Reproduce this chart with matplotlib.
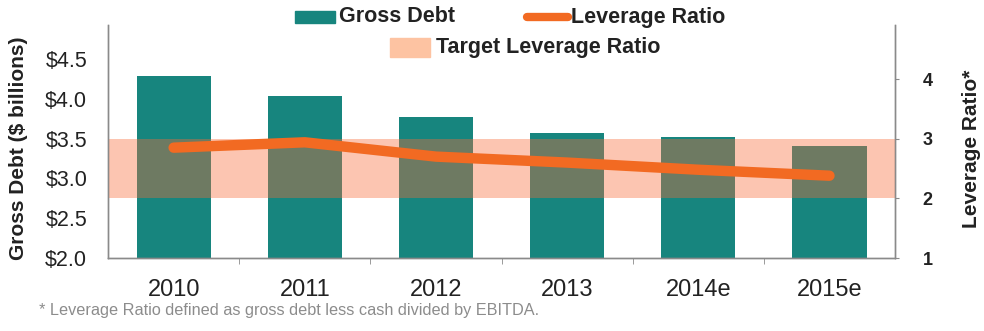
import matplotlib
matplotlib.use("Agg")
import matplotlib.pyplot as plt
from matplotlib.patches import Rectangle
from matplotlib.lines import Line2D

plt.rcParams['font.family'] = ['Liberation Sans', 'DejaVu Sans']

years = ["2010", "2011", "2012", "2013", "2014e", "2015e"]
gross_debt = [4.29, 4.04, 3.77, 3.57, 3.52, 3.41]        # $ billions
leverage_ratio = [2.85, 2.94, 2.70, 2.60, 2.48, 2.38]
target_range = (2.0, 3.0)

debt_ticks = [2.0, 2.5, 3.0, 3.5, 4.0, 4.5]
ratio_ticks = [1, 2, 3, 4]

teal = "#17857E"
band_orange = "#F96B38"
band_light = "#FDC3A2"
line_orange = "#F26A22"
spine_gray = "#8A8A8A"
text_dark = "#222222"

W, H = 984, 331
fig = plt.figure(figsize=(W / 100, H / 100), dpi=100)
ax = fig.add_axes([0.1098, 0.2205, 0.7998, 0.704])
ax2 = ax.twinx()

x = list(range(len(years)))
ax.bar(x, gross_debt, width=0.565, color=teal, zorder=1)
ax.set_xlim(-0.5, len(years) - 0.5)
ax.set_ylim(2.0, 4.93)
ax2.set_ylim(1.0, 1.0 + (4.93 - 2.0) * 4 / 3)

ax2.axhspan(*target_range, color=band_orange, alpha=0.39, lw=0, zorder=1)
ax2.plot(x, leverage_ratio, color=line_orange, lw=7.5,
         solid_capstyle='round', solid_joinstyle='round', zorder=3)

ax.set_yticks(debt_ticks)
ax.set_yticklabels([f"${v:.1f}" for v in debt_ticks], fontsize=15.5, color=text_dark)
ax2.set_yticks(ratio_ticks)
ax2.set_yticklabels([str(v) for v in ratio_ticks], fontsize=13,
                    fontweight='bold', color=text_dark)

ax.set_xticks(x)
ax.set_xticklabels(years, fontsize=17, color=text_dark)
ax.set_xticks([i + 0.5 for i in x[:-1]], minor=True)
ax.tick_params(axis='x', which='major', length=0, pad=15)
ax.tick_params(axis='x', which='minor', length=4, color=spine_gray, direction='out')
ax.tick_params(axis='y', length=0, pad=15)
ax2.tick_params(axis='y', length=3, color=spine_gray, pad=17)

for a in (ax, ax2):
    a.spines['top'].set_visible(False)
    for s in ('left', 'right', 'bottom'):
        a.spines[s].set_color(spine_gray)
        a.spines[s].set_linewidth(1.0)

ax.set_ylabel("Gross Debt ($ billions)", fontsize=15, fontweight='bold', color=text_dark)
ax.yaxis.set_label_coords(-0.1017, 0.472)
ax2.set_ylabel("Leverage Ratio*", fontsize=15, fontweight='bold', color=text_dark)
ax2.yaxis.set_label_coords(1.0851, 0.468)

# Legend, laid out in figure pixel coordinates
def fx(px):
    return px / W

def fy(py):
    return 1 - py / H

legend_font = dict(fontsize=15.5, fontweight='bold', color=text_dark, va='center')
fig.patches.append(Rectangle((fx(295), fy(23)), fx(40), 12 / H, color=teal,
                             transform=fig.transFigure, figure=fig))
fig.text(fx(339), fy(17), "Gross Debt", **legend_font)
fig.lines.append(Line2D([fx(527), fx(568)], [fy(17), fy(17)], color=line_orange,
                        lw=6, solid_capstyle='round', transform=fig.transFigure, figure=fig))
fig.text(fx(571), fy(17), "Leverage Ratio", **legend_font)
fig.patches.append(Rectangle((fx(390), fy(57)), fx(40), 19 / H, color=band_light,
                             transform=fig.transFigure, figure=fig))
fig.text(fx(436), fy(47), "Target Leverage Ratio", **legend_font)

fig.text(fx(39), fy(311), "* Leverage Ratio defined as gross debt less cash divided by EBITDA.",
         fontsize=11.7, color="#8C8C8C", va='center')

fig.savefig("out.png", dpi=100)
